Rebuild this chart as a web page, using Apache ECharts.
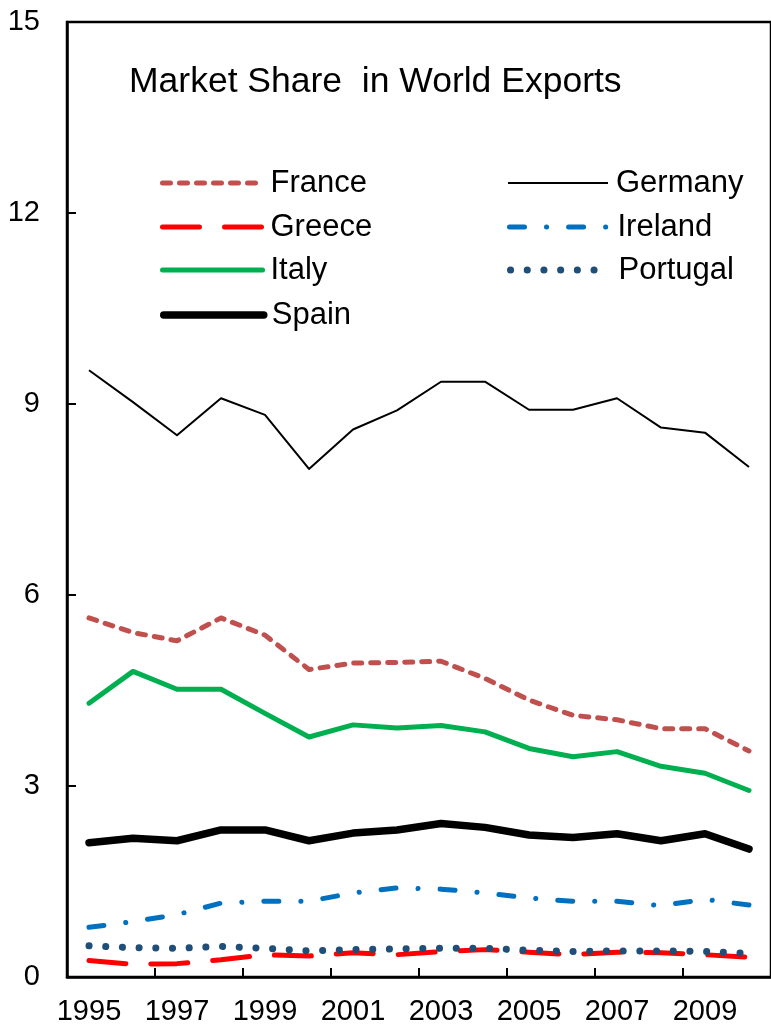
<!DOCTYPE html>
<html>
<head>
<meta charset="utf-8">
<script src="https://cdn.jsdelivr.net/npm/echarts@6/dist/echarts.min.js"></script>
<style>html,body{margin:0;padding:0;background:#fff;}#chart{width:771px;height:1029px;}</style>
</head>
<body>
<div id="chart"></div>
<script>
const years = ['1995','1996','1997','1998','1999','2000','2001','2002','2003','2004','2005','2006','2007','2008','2009','2010'];
const yTicks = [0, 3, 6, 9, 12, 15];
const france   = [5.64,5.41,5.28,5.64,5.37,4.83,4.93,4.94,4.96,4.69,4.35,4.11,4.04,3.90,3.90,3.55];
const germany  = [9.53,9.03,8.51,9.09,8.83,7.98,8.60,8.90,9.35,9.35,8.91,8.91,9.09,8.63,8.55,8.01];
const greece   = [0.26,0.20,0.21,0.27,0.35,0.33,0.38,0.35,0.40,0.43,0.39,0.35,0.39,0.38,0.35,0.31];
const ireland  = [0.78,0.87,0.98,1.16,1.19,1.19,1.32,1.40,1.38,1.32,1.24,1.19,1.19,1.12,1.22,1.13];
const italy    = [4.30,4.80,4.52,4.52,4.14,3.77,3.96,3.91,3.95,3.85,3.59,3.46,3.54,3.31,3.20,2.93];
const portugal = [0.49,0.46,0.45,0.48,0.45,0.41,0.43,0.44,0.45,0.45,0.42,0.40,0.41,0.41,0.40,0.37];
const spain    = [2.11,2.18,2.14,2.31,2.31,2.14,2.26,2.31,2.41,2.35,2.23,2.19,2.25,2.14,2.25,2.01];
const titleText = 'Market Share  in World Exports';

const styles = {
  France:   {color: '#C0504D', width: 5, type: [8, 9], cap: 'round'},
  Germany:  {color: '#000000', width: 2, type: 'solid', cap: 'butt'},
  Greece:   {color: '#FF0000', width: 5, type: [37, 25], cap: 'round'},
  Ireland:  {color: '#0070C0', width: 5, type: [15, 22, 0.1, 22], cap: 'round'},
  Italy:    {color: '#00B050', width: 5, type: 'solid', cap: 'round'},
  Portugal: {color: '#1F4E79', width: 7, type: [0.1, 16.6], cap: 'round'},
  Spain:    {color: '#000000', width: 7.5, type: 'solid', cap: 'round'}
};

const chart = echarts.init(document.getElementById('chart'), null, {renderer: 'canvas'});
const FONT = '"Liberation Sans", Arial, sans-serif';

function legendItem(name, left, rowY) {
  const s = styles[name];
  return {
    data: [name], left: left, top: rowY - 17, padding: 0,
    itemWidth: 100, itemHeight: 14, selectedMode: false,
    itemStyle: {opacity: 0},
    lineStyle: {color: s.color, width: s.width, type: s.type, cap: s.cap, opacity: 1},
    textStyle: {fontFamily: FONT, fontSize: 31, color: '#000', lineHeight: 34, padding: [0, 0, 0, 3]}
  };
}

function lineSeries(name, data) {
  const s = styles[name];
  return {
    name: name, type: 'line', data: data, symbol: 'none',
    lineStyle: {color: s.color, width: s.width, type: s.type, cap: s.cap, join: 'round'},
    itemStyle: {color: s.color}
  };
}

const option = {
  animation: false,
  backgroundColor: '#fff',
  title: {
    text: titleText, left: 129, top: 64, padding: 0,
    textStyle: {fontFamily: FONT, fontSize: 35.5, fontWeight: 'normal', color: '#000'}
  },
  legend: [
    legendItem('France', 160, 183),
    legendItem('Greece', 160, 227),
    legendItem('Italy', 160, 270),
    legendItem('Spain', 160, 315),
    legendItem('Germany', 507, 183),
    legendItem('Ireland', 507, 227),
    legendItem('Portugal', 507, 270)
  ],
  grid: {left: 67, top: 22, width: 723, height: 955, show: true, borderColor: '#000', borderWidth: 2.5, backgroundColor: 'transparent'},
  xAxis: {
    type: 'category', data: years, boundaryGap: true,
    axisLine: {lineStyle: {color: '#000', width: 2.5}},
    axisTick: {show: true, inside: true, length: 9, interval: 1, lineStyle: {color: '#000', width: 2}},
    axisLabel: {interval: 1, margin: 20, fontFamily: FONT, fontSize: 29, color: '#000'},
    splitLine: {show: false}
  },
  yAxis: {
    type: 'value', min: yTicks[0], max: yTicks[yTicks.length - 1], interval: 3,
    axisLine: {show: true, lineStyle: {color: '#000', width: 2.5}},
    axisTick: {show: true, inside: true, length: 9, lineStyle: {color: '#000', width: 2}},
    axisLabel: {margin: 27, fontFamily: FONT, fontSize: 29, color: '#000'},
    splitLine: {show: false}
  },
  series: [
    lineSeries('France', france),
    lineSeries('Germany', germany),
    lineSeries('Greece', greece),
    lineSeries('Ireland', ireland),
    lineSeries('Italy', italy),
    lineSeries('Portugal', portugal),
    lineSeries('Spain', spain)
  ]
};
chart.setOption(option);
</script>
</body>
</html>
